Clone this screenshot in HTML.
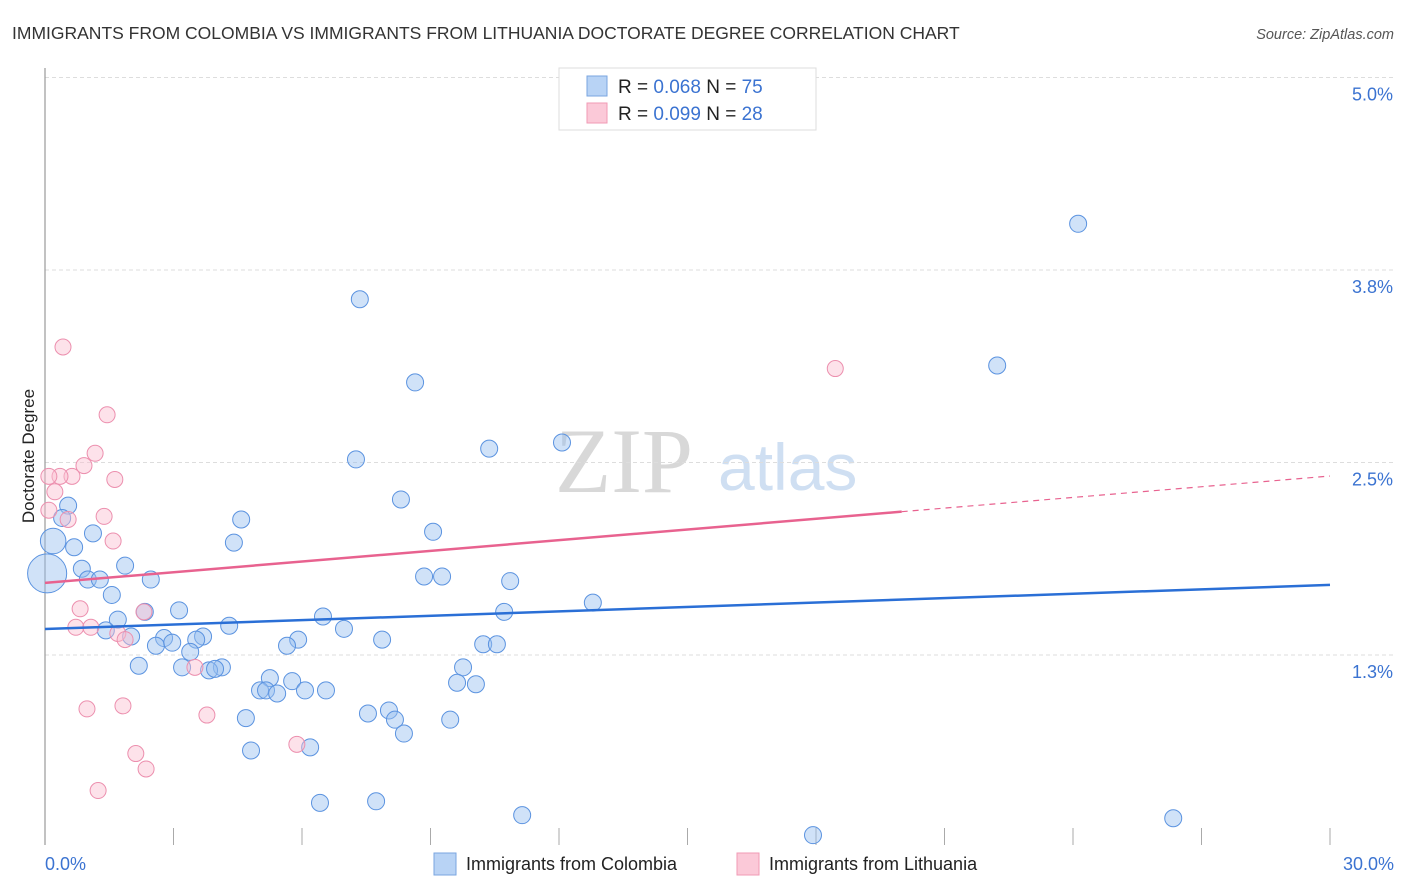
<!DOCTYPE html>
<html><head><meta charset="utf-8"><style>
body{margin:0;background:#fff;font-family:"Liberation Sans",sans-serif}
svg{display:block}
</style></head><body>
<svg id="c" width="1406" height="892" xmlns="http://www.w3.org/2000/svg">
<text x="12" y="39" font-size="17.5" fill="#333">IMMIGRANTS FROM COLOMBIA VS IMMIGRANTS FROM LITHUANIA DOCTORATE DEGREE CORRELATION CHART</text>
<text x="1394" y="39" font-size="14.5" fill="#555" font-style="italic" text-anchor="end">Source: ZipAtlas.com</text>
<text x="555" y="492" font-size="92" fill="#d8d8d8" font-family="Liberation Serif,serif">ZIP</text>
<text x="718" y="490" font-size="66" fill="#cfdff2">atlas</text>
<g id="grid"></g>
<line x1="45" y1="68" x2="45" y2="845" stroke="#999" stroke-width="1.2"/>
<text transform="translate(34,456) rotate(-90)" font-size="17" fill="#222" text-anchor="middle">Doctorate Degree</text>
<g id="pts"></g>
<g id="lines"></g>
<g>
<rect x="559" y="68" width="257" height="62" fill="#fff" stroke="#ddd"/>
<rect x="587" y="76" width="20" height="20" fill="#b8d3f5" stroke="#7aa6e0"/>
<rect x="587" y="103" width="20" height="20" fill="#fbc9d8" stroke="#f09ab5"/>
<text x="618" y="93" font-size="19" fill="#222">R = <tspan fill="#3b73d1">0.068</tspan>   N = <tspan fill="#3b73d1">75</tspan></text>
<text x="618" y="120" font-size="19" fill="#222">R = <tspan fill="#3b73d1">0.099</tspan>   N = <tspan fill="#3b73d1">28</tspan></text>
</g>
<text x="45" y="870" font-size="18" fill="#3b73d1">0.0%</text>
<text x="1394" y="870" font-size="18" fill="#3b73d1" text-anchor="end">30.0%</text>
<rect x="434" y="853" width="22" height="22" fill="#b8d3f5" stroke="#7aa6e0"/>
<text x="466" y="870" font-size="18" fill="#222">Immigrants from Colombia</text>
<rect x="737" y="853" width="22" height="22" fill="#fbc9d8" stroke="#f09ab5"/>
<text x="769" y="870" font-size="18" fill="#222">Immigrants from Lithuania</text>
</svg>
<script>
const yTicks=[1.25,2.5,3.75,5.0];
const yTickLabels=["1.3%","2.5%","3.8%","5.0%"];
const xTicks=[0,3,6,9,12,15,18,21,24,27,30];
const colX=[24.12,7.35,22.23,8.64,10.37,12.07,7.26,8.31,0.54,4.58,0.40,9.06,1.12,4.41,0.19,0.68,0.86,1.87,0.05,1.00,1.28,2.47,8.85,9.27,10.86,1.56,12.79,3.13,2.33,10.72,6.49,1.70,4.30,1.42,6.98,2.01,2.78,3.69,3.53,5.91,7.87,5.65,2.59,2.97,10.23,10.55,3.39,2.19,3.20,4.13,3.83,3.97,9.76,5.25,5.77,9.62,10.06,5.02,5.16,5.42,6.07,6.56,8.03,4.69,7.54,8.17,9.46,8.38,4.81,6.19,6.42,7.73,11.14,17.93,26.34];
const colY=[4.05,3.56,3.13,3.02,2.59,2.63,2.52,2.26,2.22,2.13,2.14,2.05,2.04,1.98,1.99,1.95,1.81,1.83,1.78,1.74,1.74,1.74,1.76,1.76,1.73,1.64,1.59,1.54,1.53,1.53,1.50,1.48,1.44,1.41,1.42,1.37,1.36,1.37,1.35,1.35,1.35,1.31,1.31,1.33,1.32,1.32,1.27,1.18,1.17,1.17,1.15,1.16,1.17,1.10,1.08,1.07,1.06,1.02,1.02,1.00,1.02,1.02,0.89,0.84,0.87,0.83,0.83,0.74,0.63,0.65,0.29,0.30,0.21,0.08,0.19];
const colSize=[1,1,1,1,1,1,1,1,1,1,1,1,1,1,1.5,1,1,1,2.3,1,1,1,1,1,1,1,1,1,1,1,1,1,1,1,1,1,1,1,1,1,1,1,1,1,1,1,1,1,1,1,1,1,1,1,1,1,1,1,1,1,1,1,1,1,1,1,1,1,1,1,1,1,1,1,1];
const litX=[0.42,1.45,1.17,0.91,1.63,0.63,0.35,0.09,0.23,0.54,1.38,1.59,0.82,2.31,0.72,1.07,1.70,1.87,3.50,0.98,1.82,3.78,5.88,2.12,2.36,1.24,18.45,0.09];
const litY=[3.25,2.81,2.56,2.48,2.39,2.41,2.41,2.41,2.31,2.13,2.15,1.99,1.55,1.53,1.43,1.43,1.39,1.35,1.17,0.90,0.92,0.86,0.67,0.61,0.51,0.37,3.11,2.19];
const colTrend=[1.419,1.705];
const litTrend=[1.718,2.412];
const litSolidEnd=20.0;
const NS="http://www.w3.org/2000/svg";
const X=v=>45+v*1285/30, Y=v=>847.5-v*154;
function mk(t,a,p){const e=document.createElementNS(NS,t);for(const k in a)e.setAttribute(k,a[k]);p.appendChild(e);return e;}
const grid=document.getElementById('grid');
yTicks.forEach((t,i)=>{
 const l=mk('line',{x1:45,x2:1394,y1:Y(t),y2:Y(t),stroke:'#ddd','stroke-dasharray':'4,3'},grid);
 
 
 const tx=mk('text',{x:1393,y:Y(t)+23,'font-size':18,fill:'#3b73d1','text-anchor':'end'},grid);
 tx.textContent=yTickLabels[i];
 
 
});
xTicks.forEach(t=>{
 const l=mk('line',{x1:X(t),x2:X(t),y1:828,y2:845,stroke:'#aaa'},grid);
 
 
});
const pts=document.getElementById('pts');
colX.forEach((v,i)=>{
 const c=mk('circle',{cx:X(v),cy:Y(colY[i]),r:8.5*colSize[i],fill:'rgba(150,190,240,0.45)',stroke:'#5b93e0','stroke-width':1},pts);
 
 
});
litX.forEach((v,i)=>{
 const c=mk('circle',{cx:X(v),cy:Y(litY[i]),r:8,fill:'rgba(250,190,208,0.45)',stroke:'#ec8fae','stroke-width':1},pts);
 
 
});
const lines=document.getElementById('lines');
const b=mk('line',{x1:X(0),y1:Y(colTrend[0]),x2:X(30),y2:Y(colTrend[1]),stroke:'#2a6fd6','stroke-width':2.5},lines);


const pm=litTrend[0]+(litTrend[1]-litTrend[0])*litSolidEnd/30;
const p=mk('line',{x1:X(0),y1:Y(litTrend[0]),x2:X(litSolidEnd),y2:Y(pm),stroke:'#e8628f','stroke-width':2.5},lines);


const pd=mk('line',{x1:X(litSolidEnd),y1:Y(pm),x2:X(30),y2:Y(litTrend[1]),stroke:'#e8628f','stroke-width':1.2,'stroke-dasharray':'6,5'},lines);


</script>
</body></html>
